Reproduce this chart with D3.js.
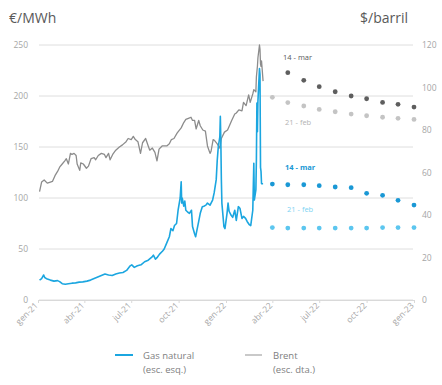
<!DOCTYPE html>
<html>
<head>
<meta charset="utf-8">
<script src="https://cdn.jsdelivr.net/npm/d3@7"></script>
<style>
  html, body { margin: 0; padding: 0; background: #fff; }
  svg { display: block; font-family: "Open Sans", "Noto Sans", sans-serif; }
</style>
</head>
<body>
<svg id="chart" width="442" height="385"></svg>
<script>
// Gas natural TTF (€/MWh), cotitzacions diàries aproximades
const gasNatural = [
  ["2021-01-04",19.5],["2021-01-08",21],["2021-01-12",24.5],["2021-01-14",22],["2021-01-19",20.5],
  ["2021-01-25",19.5],["2021-02-01",18.5],["2021-02-08",19],["2021-02-12",18],["2021-02-17",16],
  ["2021-02-23",15.5],["2021-03-01",16],["2021-03-08",16.5],["2021-03-15",16.8],["2021-03-22",17.5],
  ["2021-03-29",17.8],["2021-04-06",18.5],["2021-04-13",19.5],["2021-04-20",21],["2021-04-27",22.5],
  ["2021-05-04",24],["2021-05-11",25.5],["2021-05-18",24.5],["2021-05-25",24],["2021-06-01",25.5],
  ["2021-06-08",26.5],["2021-06-15",27],["2021-06-22",29],["2021-06-29",33.5],["2021-07-02",34.5],
  ["2021-07-07",32],["2021-07-13",33.5],["2021-07-20",34.5],["2021-07-27",37.5],["2021-08-03",39],
  ["2021-08-10",42],["2021-08-13",44],["2021-08-17",40],["2021-08-20",41.5],["2021-08-25",45],
  ["2021-08-31",48],["2021-09-03",50],["2021-09-08",56],["2021-09-13",62],["2021-09-16",70],
  ["2021-09-20",68],["2021-09-23",73],["2021-09-27",75],["2021-09-30",88],["2021-10-04",100],
  ["2021-10-06",116],["2021-10-07",95],["2021-10-08",100],["2021-10-11",92],["2021-10-13",97],
  ["2021-10-15",88],["2021-10-19",86],["2021-10-22",85],["2021-10-26",88],["2021-10-28",72],
  ["2021-11-01",65],["2021-11-03",62],["2021-11-05",67],["2021-11-09",77],["2021-11-12",85],
  ["2021-11-16",91.5],["2021-11-19",92],["2021-11-23",93],["2021-11-26",95],["2021-12-01",93],
  ["2021-12-06",98],["2021-12-09",105],["2021-12-13",118],["2021-12-15",137],["2021-12-17",150],
  ["2021-12-20",160],["2021-12-21",180],["2021-12-22",155],["2021-12-23",118],["2021-12-24",95],
  ["2021-12-28",72],["2021-12-30",70],["2022-01-03",85],["2022-01-05",95],["2022-01-07",87],
  ["2022-01-11",83],["2022-01-14",81],["2022-01-18",88],["2022-01-21",78],["2022-01-25",91.5],
  ["2022-01-28",90],["2022-02-01",80],["2022-02-04",82],["2022-02-08",80],["2022-02-11",77],
  ["2022-02-15",74],["2022-02-18",73],["2022-02-22",88],["2022-02-24",134],["2022-02-25",98],
  ["2022-02-28",108],["2022-03-01",137],["2022-03-02",193],["2022-03-03",165],["2022-03-04",195],
  ["2022-03-07",227],["2022-03-08",221],["2022-03-09",130],["2022-03-10",126],["2022-03-11",114],
  ["2022-03-14",114]
];

// Brent ($/barril)
const brent = [
  ["2021-01-04",51],["2021-01-08",55.5],["2021-01-13",56.5],["2021-01-19",55],["2021-01-25",55.5],
  ["2021-01-29",55.8],["2021-02-03",58.5],["2021-02-08",60.5],["2021-02-12",62.5],["2021-02-17",64],
  ["2021-02-22",65.5],["2021-02-25",66.5],["2021-03-01",64],["2021-03-05",69],["2021-03-08",68.5],
  ["2021-03-12",69],["2021-03-16",68],["2021-03-18",64],["2021-03-23",61],["2021-03-25",64.5],
  ["2021-03-30",64],["2021-04-05",62],["2021-04-09",63],["2021-04-14",66.5],["2021-04-20",67],
  ["2021-04-23",66],["2021-04-28",68],["2021-05-04",69],["2021-05-10",68.5],["2021-05-13",67],
  ["2021-05-18",69],["2021-05-21",66],["2021-05-26",68.5],["2021-06-01",70.5],["2021-06-08",72],
  ["2021-06-14",73],["2021-06-21",74.5],["2021-06-25",76],["2021-07-01",75.5],["2021-07-05",77],
  ["2021-07-09",75.5],["2021-07-14",74.5],["2021-07-19",69],["2021-07-23",74],["2021-07-29",76],
  ["2021-08-03",72.5],["2021-08-06",70.5],["2021-08-11",71.5],["2021-08-16",69.5],["2021-08-20",65.5],
  ["2021-08-24",71],["2021-08-30",72.5],["2021-09-03",72.5],["2021-09-08",72.5],["2021-09-13",73.5],
  ["2021-09-17",75.5],["2021-09-22",76],["2021-09-28",78.5],["2021-10-01",79.5],["2021-10-06",81],
  ["2021-10-11",83.5],["2021-10-15",85],["2021-10-20",85.5],["2021-10-25",86],["2021-10-28",84.5],
  ["2021-11-01",84.5],["2021-11-04",80.5],["2021-11-09",84.5],["2021-11-12",82],["2021-11-17",80],
  ["2021-11-22",79.5],["2021-11-26",72.5],["2021-12-01",69],["2021-12-03",70],["2021-12-07",75.5],
  ["2021-12-10",75],["2021-12-15",73.5],["2021-12-20",71.5],["2021-12-23",76],["2021-12-29",79],
  ["2022-01-04",80],["2022-01-07",81.7],["2022-01-12",84.5],["2022-01-18",87.5],["2022-01-21",88],
  ["2022-01-26",89.5],["2022-02-01",89],["2022-02-04",93],["2022-02-09",91.5],["2022-02-14",96.5],
  ["2022-02-17",93],["2022-02-22",97],["2022-02-24",99],["2022-02-28",98],["2022-03-01",105],
  ["2022-03-03",110],["2022-03-04",114],["2022-03-07",120],["2022-03-08",118],["2022-03-09",111],
  ["2022-03-10",110],["2022-03-11",112.5],["2022-03-14",103]
];

// Corbes de futurs (mesos d'entrega)
const futureMonths = ["2022-04","2022-05","2022-06","2022-07","2022-08","2022-09","2022-10","2022-11","2022-12","2023-01"];
const gasFut14mar = [113.7, 113, 113, 112.1, 110.8, 110.1, 104.6, 102.6, 97.7, 93.1];
const gasFut21feb = [71, 70.5, 70.5, 70.5, 70.5, 70.5, 70.5, 71, 71, 71];
const brentFut14mar = [null, 107, 103.4, 100.4, 98, 96, 94.7, 93, 92.1, 90.8];
const brentFut21feb = [95.4, 92.9, 91.3, 89.7, 88.6, 87.5, 86.7, 86, 85.5, 85];

const leftTicks = [0, 50, 100, 150, 200, 250];
const rightTicks = [0, 20, 40, 60, 80, 100, 120];
const xTickLabels = ["gen-21","abr-21","jul-21","oct-21","gen-22","abr-22","jul-22","oct-22","gen-23"];

const parseDay = d3.timeParse("%Y-%m-%d");
const parseMonth = d3.timeParse("%Y-%m");

const svg = d3.select("#chart");
const x = d3.scaleTime().domain([new Date(2021, 0, 1), new Date(2023, 0, 1)]).range([38, 414]);
const yL = d3.scaleLinear().domain([0, 250]).range([300, 45]);
const yR = d3.scaleLinear().domain([0, 120]).range([300, 45]);

const axisColor = "#a6a6a6";

// Unitats
svg.append("text").attr("x", 9).attr("y", 23).attr("font-size", 14).attr("fill", "#595959").text("€/MWh");
svg.append("text").attr("x", 408).attr("y", 23).attr("font-size", 14).attr("fill", "#595959")
  .attr("text-anchor", "end").text("$/barril");

// Línies de la graella (escala esquerra)
svg.append("g").selectAll("line").data(leftTicks).join("line")
  .attr("x1", 39).attr("x2", 413)
  .attr("y1", d => yL(d)).attr("y2", d => yL(d))
  .attr("stroke", "#dedede").attr("stroke-width", 1);

// Eix esquerre
const gLeft = svg.append("g").attr("transform", "translate(30,0)")
  .call(d3.axisLeft(yL).tickValues(leftTicks).tickSize(0).tickPadding(2));
gLeft.select(".domain").remove();
gLeft.selectAll("text").attr("fill", axisColor).attr("font-size", 8.5).attr("font-family", "Open Sans, sans-serif");

// Eix dret
const gRight = svg.append("g").attr("transform", "translate(420,0)")
  .call(d3.axisRight(yR).tickValues(rightTicks).tickSize(0).tickPadding(2));
gRight.select(".domain").remove();
gRight.selectAll("text").attr("fill", axisColor).attr("font-size", 8.5).attr("font-family", "Open Sans, sans-serif");

// Eix temporal
const xTickDates = xTickLabels.map((_, i) => d3.timeMonth.offset(new Date(2021, 0, 1), i * 3));
const gX = svg.append("g").attr("transform", "translate(0,300)")
  .call(d3.axisBottom(x).tickValues(xTickDates).tickSize(3).tickFormat((d, i) => xTickLabels[i]));
gX.select(".domain").attr("stroke", "#d9d9d9");
gX.selectAll(".tick line").attr("stroke", "#d9d9d9");
gX.selectAll("text")
  .attr("fill", axisColor).attr("font-size", 8.5).attr("font-family", "Open Sans, sans-serif")
  .attr("text-anchor", "end")
  .attr("dy", 0).attr("y", 0)
  .attr("transform", "translate(0,6) rotate(-45)");

// Brent
const brentLine = d3.line().x(d => x(parseDay(d[0]))).y(d => yR(d[1]));
svg.append("path").datum(brent).attr("d", brentLine)
  .attr("fill", "none").attr("stroke", "#8c8c8c").attr("stroke-width", 1.3).attr("stroke-linejoin", "round");

// Gas natural
const gasLine = d3.line().x(d => x(parseDay(d[0]))).y(d => yL(d[1]));
svg.append("path").datum(gasNatural).attr("d", gasLine)
  .attr("fill", "none").attr("stroke", "#1ba6e0").attr("stroke-width", 1.6).attr("stroke-linejoin", "round");

// Futurs
function dots(values, scale, color) {
  svg.append("g").selectAll("circle")
    .data(values.map((v, i) => ({ m: parseMonth(futureMonths[i]), v })).filter(d => d.v != null))
    .join("circle")
    .attr("cx", d => x(d.m)).attr("cy", d => scale(d.v))
    .attr("r", 2.4).attr("fill", color);
}
dots(brentFut21feb, yR, "#c4c4c4");
dots(brentFut14mar, yR, "#5e5e5e");
dots(gasFut21feb, yL, "#5cc6ef");
dots(gasFut14mar, yL, "#1a98d5");

// Etiquetes de les corbes
const lbl = (tx, ty, t, color, weight) =>
  svg.append("text").attr("x", tx).attr("y", ty).attr("font-size", 7.5).attr("fill", color)
    .attr("font-weight", weight || "normal").text(t);
lbl(283, 59.5, "14 - mar", "#595959");
lbl(285, 124.5, "21 - feb", "#b3b3b3");
lbl(285, 169.5, "14 - mar", "#1a98d5", "bold");
lbl(287, 211.5, "21 - feb", "#7dd3f3");

// Llegenda
const legend = svg.append("g");
legend.append("line").attr("x1", 115).attr("x2", 133).attr("y1", 355).attr("y2", 355)
  .attr("stroke", "#1ba6e0").attr("stroke-width", 2);
legend.append("text").attr("x", 143).attr("y", 359).attr("font-size", 9.5).attr("fill", "#808080").text("Gas natural");
legend.append("text").attr("x", 143).attr("y", 373).attr("font-size", 9.5).attr("fill", "#808080").text("(esc. esq.)");
legend.append("line").attr("x1", 245).attr("x2", 262).attr("y1", 355).attr("y2", 355)
  .attr("stroke", "#a6a6a6").attr("stroke-width", 1.2);
legend.append("text").attr("x", 273).attr("y", 359).attr("font-size", 9.5).attr("fill", "#808080").text("Brent");
legend.append("text").attr("x", 273).attr("y", 373).attr("font-size", 9.5).attr("fill", "#808080").text("(esc. dta.)");
</script>
</body>
</html>
